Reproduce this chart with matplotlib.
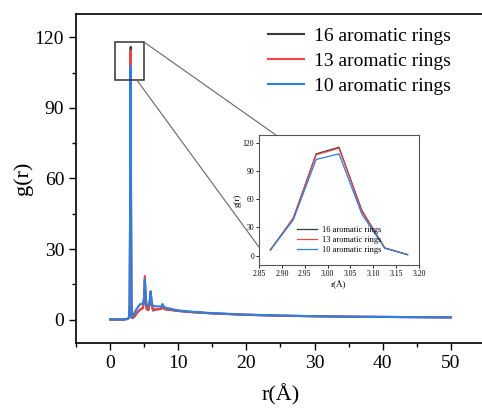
import matplotlib
matplotlib.use('Agg')
import matplotlib.pyplot as plt
from matplotlib.patches import Rectangle, ConnectionPatch
from matplotlib.ticker import MultipleLocator

plt.rcParams['font.family'] = ['Liberation Serif', 'DejaVu Serif']

labels = ['16 aromatic rings', '13 aromatic rings', '10 aromatic rings']
colors = ['#3a3a3a', '#e8474c', '#2d7fe0']

# full-range g(r)
r_main = [0, 1, 2, 2.5, 2.8, 2.875, 2.925, 2.975, 3.025, 3.075, 3.125, 3.175,
          3.25, 3.4, 3.7, 4.0, 4.4, 4.8, 5.0, 5.1, 5.2, 5.35, 5.6, 5.8, 5.95,
          6.1, 6.3, 6.6, 7.0, 7.5, 7.7, 7.9, 8.2, 9, 10, 12, 15, 20, 25, 30,
          35, 40, 45, 50]
g16 = [0, 0, 0, 0.2, 0.8, 6, 39, 108, 116, 48, 8, 1,
       0.6, 0.8, 1.8, 3.0, 4.2, 4.8, 8, 17, 10, 4.5, 4.0, 6.5, 11.5,
       6.5, 3.8, 4.2, 4.3, 4.5, 6.0, 4.6, 4.3, 4.0, 3.6, 3.1, 2.6, 2.0, 1.6, 1.4,
       1.2, 1.1, 1.0, 0.9]
g13 = [0, 0, 0, 0.2, 0.8, 6, 40, 108, 114.5, 48, 8, 1,
       0.6, 0.9, 2.0, 3.2, 4.3, 5.0, 8.5, 18.5, 10.5, 4.8, 4.2, 6.8, 12,
       6.8, 4.0, 4.4, 4.5, 4.6, 6.2, 4.7, 4.4, 4.1, 3.7, 3.2, 2.6, 2.0, 1.6, 1.4,
       1.2, 1.1, 1.0, 0.9]
g10 = [0, 0, 0, 0.2, 0.8, 6, 38, 102, 108, 44, 8, 1,
       1.2, 2.0, 3.5, 5.0, 6.5, 6.8, 9.5, 17, 11, 6.0, 5.8, 7.5, 12,
       7.5, 5.6, 5.7, 5.6, 5.5, 6.6, 5.4, 5.0, 4.5, 3.9, 3.3, 2.7, 2.1, 1.7, 1.4,
       1.2, 1.1, 1.0, 0.9]

# zoomed peak (inset)
r_zoom = [2.875, 2.925, 2.975, 3.025, 3.075, 3.125, 3.175]
z16 = [6, 39, 108, 115, 48, 8, 1]
z13 = [6, 40, 107, 114, 47, 8, 1]
z10 = [6, 38, 102, 108, 44, 8, 1]

fig = plt.figure(figsize=(4.82, 4.08), dpi=100)
ax = fig.add_axes([0.1577, 0.1593, 0.8485, 0.8064])

for g, c, lab in zip([g16, g13, g10], colors, labels):
    ax.plot(r_main, g, color=c, lw=1.5, label=lab)

ax.set_xlim(-5, 55)
ax.set_ylim(-10, 130)
ax.xaxis.set_major_locator(MultipleLocator(10))
ax.xaxis.set_minor_locator(MultipleLocator(5))
ax.yaxis.set_major_locator(MultipleLocator(30))
ax.yaxis.set_minor_locator(MultipleLocator(15))
ax.tick_params(which='both', direction='out', top=False, right=False,
               labelsize=14, width=1.0)
ax.tick_params(which='major', length=5)
ax.tick_params(which='minor', length=3)
for s in ax.spines.values():
    s.set_linewidth(1.2)
ax.set_xlabel('r(Å)', fontsize=16, labelpad=9)
ax.set_ylabel('g(r)', fontsize=16, labelpad=1)

ax.legend(loc='upper left', bbox_to_anchor=(0.435, 1.0), frameon=False,
          fontsize=14, handlelength=1.9, handletextpad=0.5, labelspacing=0.38,
          borderpad=0.2)

# zoom box
ax.add_patch(Rectangle((0.7, 102), 4.3, 16, fill=False, edgecolor='#333333',
                       lw=1.1, zorder=5))

ins = fig.add_axes([0.5373, 0.3505, 0.332, 0.3186])
for g, c, lab in zip([z16, z13, z10], colors, labels):
    ins.plot(r_zoom, g, color=c, lw=0.9, label=lab)
ins.set_xlim(2.85, 3.20)
ins.set_ylim(-10, 128)
ins.xaxis.set_major_locator(MultipleLocator(0.05))
ins.yaxis.set_major_locator(MultipleLocator(30))
ins.tick_params(direction='out', labelsize=5.5, length=2, width=0.6, pad=1.5)
for s in ins.spines.values():
    s.set_linewidth(0.8)
    s.set_edgecolor('#555555')
ins.set_xlabel('r(Å)', fontsize=6.5, labelpad=2)
ins.set_ylabel('g(r)', fontsize=6.5, labelpad=1)
ins.legend(loc='lower center', bbox_to_anchor=(0.5, 0.03), frameon=False,
           fontsize=6, handlelength=2.4, handletextpad=0.6, labelspacing=0.2)

for xa, ya, xb, yb in [(5.0, 118, 2.887, 128), (3.9, 102, 2.85, 9)]:
    con = ConnectionPatch(xyA=(xa, ya), coordsA=ax.transData,
                          xyB=(xb, yb), coordsB=ins.transData,
                          color='#666666', lw=0.8)
    fig.add_artist(con)

fig.savefig('out.png', dpi=100)
